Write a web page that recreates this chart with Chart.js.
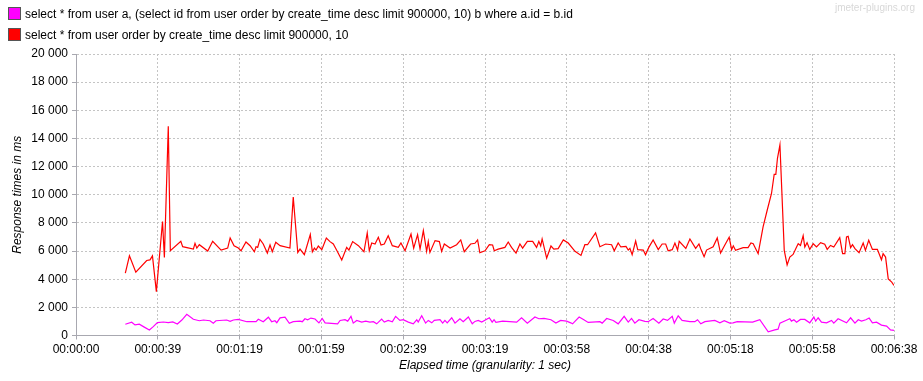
<!DOCTYPE html>
<html>
<head>
<meta charset="utf-8">
<script src="https://cdn.jsdelivr.net/npm/chart.js@4.4.0/dist/chart.umd.min.js"></script>
<style>
  html, body { margin: 0; padding: 0; background: #fff; }
  #wrap { position: relative; width: 923px; height: 381px; font-family: "Liberation Sans", Arial, sans-serif; }
  canvas { position: absolute; left: 0; top: 0; }
  .leg { position: absolute; left: 8px; font-size: 12px; color: #000; line-height: 14px; white-space: nowrap; }
  .leg span { display: inline-block; width: 11px; height: 11px; border: 1px solid #555; vertical-align: -2px; margin-right: 4px; }
  #mark { position: absolute; right: 8px; top: 2px; font-size: 10px; color: #d8d8d8; }
</style>
</head>
<body>
<div id="wrap">
  <canvas id="chart" width="923" height="381"></canvas>
  <div class="leg" style="top:7px"><span style="background:#ff00ff"></span>select * from user a, (select id from user order by create_time desc limit 900000, 10) b where a.id = b.id</div>
  <div class="leg" style="top:28px"><span style="background:#ff0000"></span>select * from user order by create_time desc limit 900000, 10</div>
  <div id="mark">jmeter-plugins.org</div>
</div>
<script>
// elapsed seconds / response time (ms)
const joinTime = [24, 27.1, 28.7, 30.8, 32.8, 35.7, 37.6, 39.6, 42.5, 44.9, 47.1, 49.3, 51.5, 53.9, 57.1, 60, 62, 65.2, 66.8, 68.1,
  73.3, 75, 76.6, 79, 83.1, 87.6, 88.7, 91.1, 93.6, 95.2, 96.8, 97.7, 99.3, 101.7, 103.8, 105.7, 109, 110.1, 111.4, 112.7,
  114.3, 116.3, 118.2, 119.8, 121.2, 127.3, 128.5, 130.9, 132.2, 133.8, 134.9, 136.6, 139, 141, 143, 144.7, 146.3, 148.7, 150, 151.9,
  153.9, 155.5, 157.6, 159.2, 161.7, 164.1, 165.8, 166.5, 168.2, 170.1, 171.4, 173.1, 174.3, 177.1, 178.4, 179.5, 180.6, 182.8, 184.4, 186.8,
  188.4, 190.9, 192.8, 194.1, 195.7, 197.4, 201.1, 202.5, 203.4, 204.3, 207.6, 214.4, 216.8, 219.6, 223.3, 225.2, 227.7, 231.1, 233.5, 235.8,
  238.7, 240.7, 241.6, 244.8, 247.1, 249.2, 254.9, 256, 258.2, 261.4, 263.8, 266.7, 268.7, 270.3, 271.9, 273.9, 276.8, 278.4, 280.8, 283.6,
  285.7, 287.8, 290.1, 291.1, 293, 294.9, 298.7, 301.1, 302.4, 304, 306, 310.8, 313.3, 315.4, 318.1, 319.7, 321.7, 329.2, 332.7, 336.8,
  340, 341.6, 342.5, 345.4, 347.3, 348.1, 349.3, 350.6, 352.5, 354.6, 357, 359, 359.9, 361.1, 362.7, 365.2, 367.6, 368.7, 370.8, 374.9,
  376.9, 379, 380.6, 382.2, 384.3, 385.9, 387.5, 389.5, 391.9, 394.4, 396.3, 398];
const joinMs = [800, 940, 750, 800, 630, 390, 630, 910, 960, 910, 960, 820, 1100, 1510, 1150, 1050, 1100, 1050, 870, 1050,
  1100, 1010, 1100, 1150, 980, 980, 1150, 980, 1300, 980, 1050, 910, 1250, 1300, 870, 980, 1020, 980, 1190, 1120,
  1240, 1170, 900, 1210, 900, 830, 1070, 1120, 1020, 1360, 880, 1070, 950, 1020, 950, 980, 830, 1170, 950, 1070,
  980, 1360, 1070, 1120, 950, 830, 1120, 950, 1400, 880, 1070, 900, 1070, 1120, 880, 1070, 900, 1260, 880, 1190,
  980, 1310, 830, 1000, 1070, 950, 1260, 950, 1120, 930, 1020, 950, 1260, 880, 1310, 1190, 1210, 1120, 880, 1070,
  1020, 900, 830, 1310, 1120, 930, 980, 880, 1210, 1070, 830, 1360, 950, 1210, 880, 1120, 1000, 980, 1210, 880,
  1170, 1070, 1360, 880, 1400, 1070, 980, 980, 1120, 830, 980, 1070, 900, 1050, 880, 900, 980, 950, 1120, 260,
  400, 450, 880, 1070, 1190, 1020, 1120, 950, 1140, 1140, 900, 1310, 1020, 1260, 950, 900, 1070, 880, 1190, 900,
  1260, 880, 1120, 1020, 1120, 1240, 900, 950, 740, 670, 400, 360];

const limitTime = [24, 26, 29.1, 34.4, 36, 37.2, 39.1, 42.1, 43, 44.9, 45.9, 51, 51.9, 57.1, 57.9, 58.8, 60, 64.1, 66.5, 70.6,
  73.8, 75, 76.9, 79, 80.3, 82.7, 84.7, 86.8, 87.6, 88.4, 89.5, 91.1, 93.1, 94.4, 95.5, 97.2, 99.3, 104.1, 105.7, 107.9,
  109, 111.1, 114, 115, 116, 116.8, 117.9, 119.6, 121.8, 123.6, 125.2, 127.1, 129.3, 131.7, 132.8, 134.6, 137.4, 140.1, 141.7, 142.7,
  143.9, 145.5, 147.1, 148.4, 150, 151.9, 153.9, 156.8, 158.1, 160.1, 163, 164.3, 166.2, 167.4, 169, 170.6, 171.4, 172.2, 174.7, 176.8,
  177.9, 179.2, 182, 185.2, 187.2, 188.9, 192, 194.1, 195.4, 196.5, 199, 201.1, 202.7, 203.5, 205.4, 208.7, 210.3, 211.9, 214.1, 216,
  217.3, 219.6, 222.2, 224.1, 225.2, 226.1, 226.8, 229, 231.1, 232.5, 234.6, 237.1, 239.5, 242.8, 245.7, 247.6, 248.9, 252.8, 254.9, 257.7,
  260.6, 261.9, 263.8, 265.1, 267.6, 268.7, 269.5, 270.6, 272.3, 273.3, 276, 277.1, 278.7, 280.8, 283.3, 285.2, 286.9, 288.1, 290.1, 291.4,
  292.7, 293.5, 296.7, 298.7, 301.5, 303.1, 304, 305.6, 306.8, 310, 312, 313.6, 315.7, 317.8, 319, 319.8, 320.9, 324.6, 327, 328.4,
  329.5, 331.9, 334.3, 336.3, 338.4, 339.7, 340.5, 341.3, 342.5, 344.6, 346, 347.3, 348.9, 350.6, 351.4, 352.5, 353.8, 354.6, 355.7, 357,
  358.7, 360.3, 362.3, 364.3, 365.5, 367.1, 368.7, 371.6, 373, 374.1, 374.9, 375.7, 376.9, 377.8, 379, 381, 383, 384.1, 385.7, 387.5,
  389.9, 391.9, 392.7, 393.9, 395.2, 396.9, 398];
const limitMs = [4430, 5660, 4500, 5330, 5370, 5660, 3120, 8100, 5550, 14870, 6030, 6690, 6310, 6140, 6550, 6210, 6450, 6000, 6690, 6070,
  6210, 6930, 6380, 6210, 6020, 6640, 6380, 5950, 6310, 6260, 6830, 6500, 5860, 6430, 5950, 6620, 6380, 6210, 9830, 5900,
  6140, 5740, 7170, 5950, 6210, 6070, 6360, 6100, 6930, 6670, 6500, 5980, 5360, 6260, 6070, 6670, 6380, 5950, 7290, 6020,
  6570, 6500, 6980, 6430, 6500, 7090, 6380, 6260, 6570, 6020, 7210, 6210, 7170, 6140, 7450, 5980, 6670, 5900, 6740, 6670,
  5980, 6500, 6210, 6450, 6790, 5950, 6500, 6550, 6790, 5880, 6020, 6450, 6430, 6020, 6140, 6260, 6640, 6260, 5860, 6500,
  6210, 6690, 6690, 6260, 6690, 6360, 6860, 5500, 6360, 6140, 6170, 6790, 6570, 5980, 5690, 6450, 6450, 7290, 6310, 6500,
  6450, 6020, 6570, 6290, 6330, 6070, 6190, 5740, 6710, 6100, 6070, 5740, 6260, 6790, 6100, 6500, 6500, 6020, 6100, 6570,
  6070, 6690, 6190, 6860, 6190, 6500, 6140, 5600, 6070, 6310, 6930, 5860, 6430, 6980, 6100, 6370, 6050, 6240, 6240, 6570,
  6520, 5810, 7710, 8900, 10090, 11450, 11450, 12590, 13540, 6050, 5020, 5570, 5760, 6290, 6520, 6400, 7090, 6290, 6600, 6120,
  6520, 6290, 6600, 6480, 6120, 6400, 6290, 6950, 5810, 5810, 7000, 7050, 6240, 6450, 6170, 5880, 6570, 6050, 6760, 6120,
  6120, 5380, 5810, 5570, 4020, 3790, 3550];

const xMax = 398;
const xTickCount = 10;
const yMax = 20000;
const yStep = 2000;

const pts = (t, v) => t.map((x, i) => ({ x: x, y: v[i] }));

function hms(sec) {
  const s = Math.floor(sec + 1e-6);
  const p = n => String(n).padStart(2, "0");
  return p(Math.floor(s / 3600)) + ":" + p(Math.floor(s / 60) % 60) + ":" + p(s % 60);
}

const font = { family: "'Liberation Sans', Arial, sans-serif", size: 12 };
const gridColor = "#c4c4c4";
const axisColor = "#a8a8b0";

new Chart(document.getElementById("chart"), {
  type: "line",
  data: {
    datasets: [
      {
        label: "join",
        data: pts(joinTime, joinMs),
        borderColor: "#ff00ff",
        borderWidth: 1.2,
        pointRadius: 0,
        tension: 0,
      },
      {
        label: "limit",
        data: pts(limitTime, limitMs),
        borderColor: "#ff0000",
        borderWidth: 1.2,
        pointRadius: 0,
        tension: 0,
      },
    ],
  },
  options: {
    responsive: false,
    animation: false,
    events: [],
    layout: { padding: { left: 0, right: 29, top: 54, bottom: 0 } },
    plugins: { legend: { display: false }, tooltip: { enabled: false } },
    scales: {
      x: {
        type: "linear",
        min: 0,
        max: xMax,
        afterBuildTicks: (scale) => {
          const t = [];
          for (let i = 0; i <= xTickCount; i++) t.push({ value: +((xMax / xTickCount) * i).toFixed(3) });
          scale.ticks = t;
        },
        afterFit: (scale) => { scale.height = 45.5; },
        ticks: {
          font: font,
          color: "#000",
          padding: 3,
          maxRotation: 0,
          autoSkip: false,
          callback: (v) => hms(v),
        },
        grid: { color: gridColor, tickLength: 4, tickColor: axisColor, tickBorderDash: [] },
        border: { color: axisColor, dash: [2, 2] },
        title: {
          display: true,
          text: "Elapsed time (granularity: 1 sec)",
          font: { ...font, style: "italic" },
          color: "#000",
          padding: { top: 0, bottom: 8 },
        },
      },
      y: {
        min: 0,
        max: yMax,
        afterFit: (scale) => { scale.width = 76; },
        ticks: {
          stepSize: yStep,
          font: font,
          color: "#000",
          padding: 4,
          callback: (v) => String(v).replace(/\B(?=(\d{3})+(?!\d))/g, " "),
        },
        grid: { color: gridColor, tickLength: 4, tickColor: axisColor, tickBorderDash: [] },
        border: { color: axisColor, dash: [2, 2] },
        title: {
          display: true,
          text: "Response times in ms",
          font: { ...font, style: "italic" },
          color: "#000",
          padding: { top: 10, bottom: 0 },
        },
      },
    },
  },
});
</script>
</body>
</html>
